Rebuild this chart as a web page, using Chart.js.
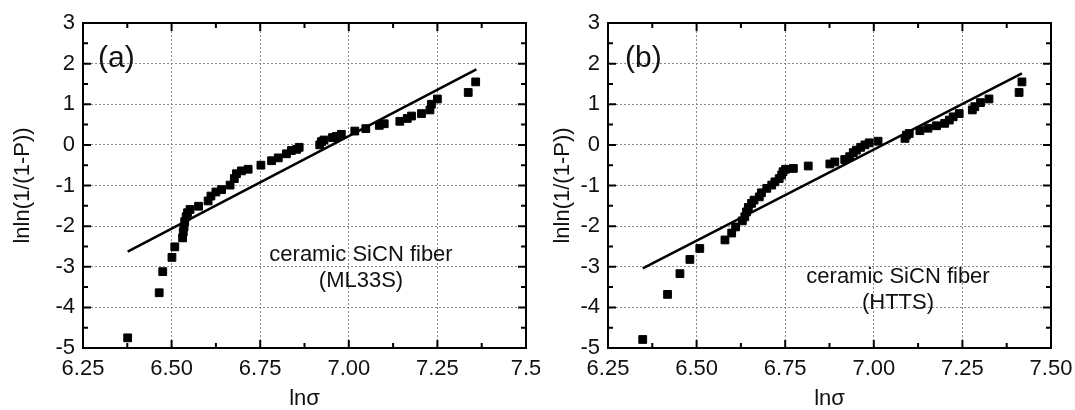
<!DOCTYPE html>
<html>
<head>
<meta charset="utf-8">
<script src="https://cdn.jsdelivr.net/npm/chart.js@4"></script>
<style>
  html, body { margin: 0; padding: 0; background: #fff; }
  body { width: 1075px; height: 410px; position: relative; overflow: hidden; }
  canvas { position: absolute; top: 0; }
  #chartA { left: 0; }
  #chartB { left: 540px; }
</style>
</head>
<body>
<canvas id="chartA" width="540" height="410"></canvas>
<canvas id="chartB" width="535" height="410"></canvas>
<script>
// panel (a) - ML33S
const aLnSigma = [6.376, 6.465, 6.475, 6.501, 6.509, 6.531, 6.533, 6.535, 6.537, 6.541, 6.545, 6.552,
  6.576, 6.603, 6.611, 6.625, 6.641, 6.665, 6.677, 6.683, 6.697, 6.716, 6.752, 6.782, 6.801, 6.824,
  6.838, 6.853, 6.860, 6.918, 6.923, 6.930, 6.954, 6.965, 6.979, 7.017, 7.048, 7.086, 7.100, 7.144,
  7.165, 7.177, 7.205, 7.229, 7.233, 7.250, 7.337, 7.358];
const aLnLn = [-4.75, -3.64, -3.12, -2.77, -2.51, -2.29, -2.14, -2.02, -1.89, -1.77, -1.67, -1.59,
  -1.51, -1.38, -1.26, -1.16, -1.10, -0.99, -0.83, -0.71, -0.64, -0.60, -0.50, -0.39, -0.32, -0.22,
  -0.14, -0.11, -0.06, 0.00, 0.08, 0.12, 0.18, 0.21, 0.26, 0.34, 0.40, 0.48, 0.52, 0.58,
  0.65, 0.71, 0.77, 0.86, 1.00, 1.13, 1.29, 1.55];
const aFitX = [6.376, 7.360];
const aFitY = [-2.63, 1.86];

// panel (b) - HTTS
const bLnSigma = [6.348, 6.418, 6.453, 6.481, 6.509, 6.580, 6.599, 6.610, 6.629, 6.636, 6.641, 6.646,
  6.655, 6.662, 6.677, 6.683, 6.698, 6.712, 6.721, 6.733, 6.740, 6.744, 6.751, 6.773, 6.815, 6.876,
  6.890, 6.918, 6.932, 6.942, 6.951, 6.963, 6.975, 6.987, 7.012, 7.088, 7.092, 7.100, 7.130, 7.153,
  7.177, 7.200, 7.213, 7.224, 7.241, 7.278, 7.285, 7.301, 7.325, 7.410, 7.418];
const bLnLn = [-4.79, -3.68, -3.17, -2.82, -2.55, -2.34, -2.17, -2.02, -1.87, -1.77, -1.65, -1.54,
  -1.44, -1.36, -1.28, -1.18, -1.07, -0.99, -0.91, -0.83, -0.74, -0.66, -0.60, -0.58, -0.52, -0.47,
  -0.42, -0.36, -0.29, -0.19, -0.13, -0.06, 0.00, 0.05, 0.09, 0.16, 0.24, 0.28, 0.35, 0.41,
  0.47, 0.53, 0.61, 0.69, 0.77, 0.86, 0.94, 1.04, 1.13, 1.29, 1.55];
const bFitX = [6.348, 7.418];
const bFitY = [-3.04, 1.76];

// tick labels
const aXTicks = ['6.25', '6.50', '6.75', '7.00', '7.25', '7.5'];
const bXTicks = ['6.25', '6.50', '6.75', '7.00', '7.25', '7.50'];
const yTicks  = ['-5', '-4', '-3', '-2', '-1', '0', '1', '2', '3'];

const FONT = "Arial, 'Liberation Sans', sans-serif";

// solid frame on all four sides plus inward major/minor ticks, panel text
const framePlugin = {
  id: 'frame',
  afterDraw(chart, args, opts) {
    const { ctx, chartArea: a, scales: { x, y } } = chart;
    ctx.save();
    ctx.strokeStyle = '#000';
    ctx.lineWidth = 2;
    ctx.strokeRect(a.left, a.top, a.right - a.left, a.bottom - a.top);

    ctx.beginPath();
    for (let v = x.min; v <= x.max + 1e-9; v += 0.125) {
      const px = x.getPixelForValue(v);
      const major = Math.abs(((v - x.min) / 0.25) - Math.round((v - x.min) / 0.25)) < 1e-6;
      const len = major ? 8 : 5;
      ctx.moveTo(px, a.bottom); ctx.lineTo(px, a.bottom - len);
      ctx.moveTo(px, a.top);    ctx.lineTo(px, a.top + len);
    }
    for (let v = y.min; v <= y.max + 1e-9; v += 0.5) {
      const py = y.getPixelForValue(v);
      const len = Number.isInteger(v) ? 8 : 5;
      ctx.moveTo(a.left, py);  ctx.lineTo(a.left + len, py);
      ctx.moveTo(a.right, py); ctx.lineTo(a.right - len, py);
    }
    ctx.stroke();

    ctx.fillStyle = '#111';
    ctx.textBaseline = 'middle';
    ctx.textAlign = 'left';
    ctx.font = '30px ' + FONT;
    ctx.fillText(opts.panel, a.left + opts.panelDx, a.top + 36);

    ctx.textAlign = 'center';
    ctx.font = '22px ' + FONT;
    opts.note.forEach((line, i) => {
      ctx.fillText(line, a.left + opts.noteDx, a.top + opts.noteDy + i * 26);
    });
    ctx.restore();
  }
};

function makeChart(id, xs, ys, fitX, fitY, xTicks, yAxisWidth, padRight, panel) {
  const pts = xs.map((v, i) => ({ x: v, y: ys[i] }));
  const fit = fitX.map((v, i) => ({ x: v, y: fitY[i] }));
  return new Chart(document.getElementById(id), {
    type: 'scatter',
    data: {
      datasets: [{
        data: pts,
        pointStyle: 'rect',
        pointRadius: 5.5,
        pointBorderWidth: 1,
        backgroundColor: '#000',
        borderColor: '#000',
      }, {
        data: fit,
        showLine: true,
        pointRadius: 0,
        borderColor: '#000',
        borderWidth: 2.5,
      }],
    },
    options: {
      responsive: false,
      animation: false,
      layout: { padding: { top: 23, right: padRight, bottom: 0, left: 0 } },
      plugins: { legend: { display: false }, tooltip: { enabled: false }, frame: panel },
      scales: {
        x: {
          type: 'linear', min: 6.25, max: 7.5,
          grid: { color: '#8a8a8a', lineWidth: 1, drawTicks: false },
          border: { display: false, dash: [2, 2] },
          ticks: {
            stepSize: 0.25, autoSkip: false, maxRotation: 0, padding: 8,
            color: '#111', font: { family: FONT, size: 22 },
            callback: (v, i) => xTicks[i],
          },
          title: { display: true, text: 'lnσ', color: '#111', padding: 0,
                   font: { family: FONT, size: 22, lineHeight: 1 } },
          afterFit(s) { s.height = 62; s.paddingLeft = 0; s.paddingRight = 0; },
        },
        y: {
          type: 'linear', min: -5, max: 3,
          grid: { color: '#8a8a8a', lineWidth: 1, drawTicks: false },
          border: { display: false, dash: [2, 2] },
          ticks: {
            stepSize: 1, autoSkip: false, padding: 8,
            color: '#111', font: { family: FONT, size: 22 },
            callback: (v, i) => yTicks[i],
          },
          title: { display: true, text: 'lnln(1/(1-P))', color: '#111', padding: { top: 10, bottom: 0 },
                   font: { family: FONT, size: 22 } },
          afterFit(s) { s.width = yAxisWidth; s.paddingTop = 0; s.paddingBottom = 0; },
        },
      },
    },
    plugins: [framePlugin],
  });
}

makeChart('chartA', aLnSigma, aLnLn, aFitX, aFitY, aXTicks, 83, 14,
  { panel: '(a)', panelDx: 15, note: ['ceramic SiCN fiber', '(ML33S)'], noteDx: 278, noteDy: 232 });
makeChart('chartB', bLnSigma, bLnLn, bFitX, bFitY, bXTicks, 68, 24,
  { panel: '(b)', panelDx: 17, note: ['ceramic SiCN fiber', '(HTTS)'], noteDx: 290, noteDy: 254 });
</script>
</body>
</html>
